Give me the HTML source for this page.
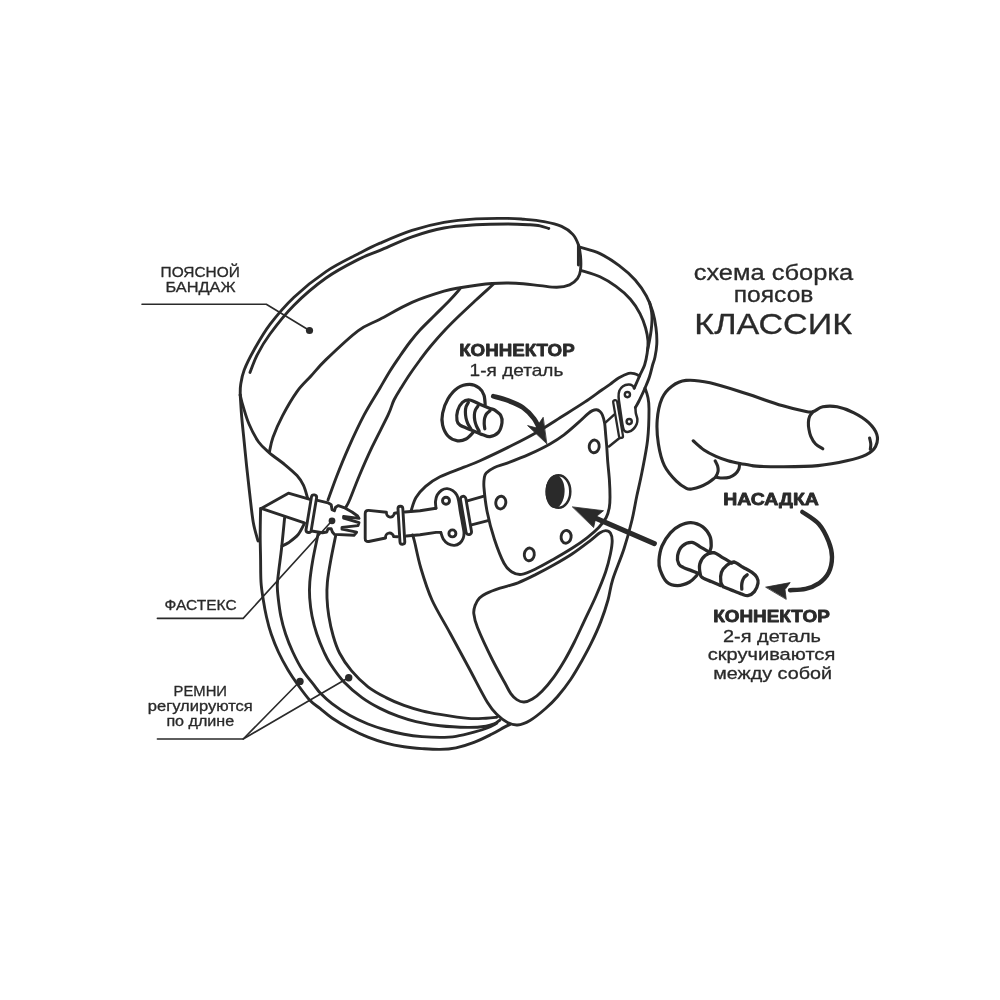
<!DOCTYPE html>
<html lang="ru">
<head>
<meta charset="utf-8">
<title>Схема сборки поясов КЛАССИК</title>
<style>
html,body{margin:0;padding:0;background:#fff;}
body{width:1000px;height:1000px;overflow:hidden;}
svg{display:block;}
svg{will-change:transform;}
svg text{font-family:"Liberation Sans",sans-serif;fill:#2a2a2a;}
</style>
</head>
<body>
<svg width="1000" height="1000" viewBox="0 0 1000 1000">
<rect width="1000" height="1000" fill="#fff"/>
<g fill="none" stroke="#2a2a2a" stroke-linecap="round" stroke-linejoin="round">
<path d="M240.2 395C240.3 393.2 240 388.6 240.7 384.4C241.4 380.2 242 375.7 244.2 370C246.4 364.3 249.7 357.6 254 350C258.3 342.4 263.3 333.2 270 324.4C276.7 315.6 284.7 306 294 297.2C303.3 288.4 315.3 278.8 326 271.6C336.7 264.4 349 258.7 358 254C367 249.3 371 247.1 380 243.2C389 239.3 401.3 233.9 412 230.4C422.7 226.9 433.3 224.3 444 222.4C454.7 220.5 465.3 219.6 476 218.9C486.7 218.2 500 218.3 508 218.4C516 218.5 518 218.8 524 219.3C530 219.8 537.7 220.4 544 221.6C550.3 222.8 556.8 224.3 561.6 226.4C566.4 228.5 570 231.3 572.8 234.4C575.6 237.5 577.1 241.2 578.4 244.8C579.7 248.4 580.1 251.7 580.5 256C580.9 260.3 581 266.7 580.5 270.4C580 274.1 579.4 276 577.6 278.4C575.8 280.8 573.1 283.3 569.6 284.8C566.1 286.3 561.7 287.1 556.8 287.2C551.9 287.3 546.8 286.3 540 285.6C533.2 284.9 524 283.6 516 283.2C508 282.8 501.3 282.8 492 283.5C482.7 284.2 468 286.4 460 287.7C452 289 452 288.8 444 291.2C436 293.6 422.7 297.7 412 302.4C401.3 307.1 389 314.5 380 319.2C371 323.9 367 324.1 358 330.8C349 337.5 333.8 352.1 326 359.6C318.2 367.1 315.8 370.7 311 376C306.2 381.3 301.7 385 297 391.6C292.3 398.2 286.6 408 282.6 415.6C278.6 423.2 275.2 431.1 273 437.2C270.8 443.3 270 449.5 269.4 452" fill="none" stroke-width="2.9"/>
<path d="M250 372.4C251.2 369.5 253.9 361.2 257.2 354.8C260.5 348.4 263.9 342.3 270 334C276.1 325.7 284.7 314.5 294 305.2C303.3 295.9 315.3 285.6 326 278C336.7 270.4 349 264.2 358 259.6C367 255 371 254.2 380 250.4C389 246.6 401.3 240.5 412 236.8C422.7 233.1 433.3 230 444 228C454.7 226 465.3 225.5 476 224.8C486.7 224.1 499 224 508 224C517 224 524.7 224.5 530 224.8C535.3 225.1 536.9 225.2 540 225.8C543.1 226.4 547.3 228.1 548.8 228.5" fill="none" stroke-width="2.9"/>
<path d="M578.4 245.5L578.4 265" fill="none" stroke-width="2.9"/>
<path d="M240.2 395C240.5 398.8 241.1 410.2 241.8 418C242.5 425.8 243.4 434 244.2 442C245 450 245.7 457.7 246.6 466C247.5 474.3 248.4 482.7 249.5 492C250.6 501.3 251.8 513.8 253.2 522C254.6 530.2 257.2 537.8 258 541" fill="none" stroke-width="2.9"/>
<path d="M240.2 395C240.7 396.8 241.5 401.2 243 406C244.5 410.8 246.4 418 249 424C251.6 430 255.2 437.2 258.6 442C262 446.8 265 449 269.4 452.8C273.8 456.6 280.4 461 285 464.8C289.6 468.6 293.9 472.2 297 475.6C300.1 479 301.6 481.5 303.4 485.2C305.2 488.9 306.9 495.9 307.6 498" fill="none" stroke-width="2.9"/>
<path d="M580 247.2C583.3 248.3 593.5 250.5 600 253.6C606.5 256.7 613.3 261.2 619.2 265.6C625.1 270 630.7 274.9 635.2 280C639.7 285.1 643.5 290.7 646.4 296C649.3 301.3 651.2 306.7 652.8 312C654.4 317.3 655.3 322.7 656 328C656.7 333.3 657 339.2 656.8 344C656.6 348.8 655.7 353.5 655 357C654.3 360.5 653.5 361.7 652.6 365C651.7 368.3 650.7 373 649.4 377C648.1 381 646.3 385 644.6 389C642.9 393 640.5 397.9 639 401C637.5 404.1 636 406.3 635.4 407.4" fill="none" stroke-width="2.9"/>
<path d="M580.8 270.4C584 271.5 594.1 274.1 600 276.8C605.9 279.5 610.9 282.7 616 286.4C621.1 290.1 626.4 294.7 630.4 299.2C634.4 303.7 637.5 308.8 640 313.6C642.5 318.4 644.3 323.4 645.6 328C646.9 332.6 647.7 336.8 648 341C648.3 345.2 647.8 349 647.2 353C646.6 357 645.8 361.3 644.6 365C643.4 368.7 641.5 371.5 639.8 375.4C638.1 379.3 635.1 386.1 634.2 388.2" fill="none" stroke-width="2.9"/>
<path d="M649.6 302.4C649.9 304 651.2 309.1 651.6 312C652 314.9 652.1 317 652 320C651.9 323 651.6 326.7 651.2 330C650.8 333.3 650.2 336.7 649.6 340C649 343.3 647.9 348.3 647.6 350" fill="none" stroke-width="2.9"/>
<path d="M260.6 508.4C260.5 513 260.2 527.4 260.2 536C260.2 544.6 260.5 552.3 260.6 560C260.7 567.7 260.6 575.3 261 582C261.4 588.7 262.4 594.2 263.3 600C264.2 605.8 265.2 611.3 266.5 617C267.8 622.7 269.2 628.2 271.2 634C273.2 639.8 275.6 646 278.4 652C281.2 658 284.8 664.6 288 670C291.2 675.4 294 679.4 297.6 684.4C301.2 689.4 305.9 696 309.6 700C313.3 704 316.3 705.4 320 708.4C323.7 711.4 327 714.6 332 718C337 721.4 344 725.6 350 728.8C356 732 362 734.8 368 737.2C374 739.6 380 741.6 386 743.2C392 744.8 398 745.9 404 746.8C410 747.7 416 748.2 422 748.6C428 749 434.3 749.5 440 749.4C445.7 749.3 450.3 749 456 747.8C461.7 746.6 468 744.7 474 742.4C480 740.1 487 736.5 492 734C497 731.5 501 729 504 727.4C507 725.8 509 724.9 510 724.4" fill="none" stroke-width="2.9"/>
<path d="M284.6 518C284.1 523 282.6 539 281.6 548C280.6 557 279.3 565.8 278.6 572C277.9 578.2 277.4 580.7 277.3 585C277.2 589.3 277.6 592.8 278.2 598C278.8 603.2 279.6 610 280.8 616C282 622 283.6 628 285.6 634C287.6 640 290 646 292.8 652C295.6 658 298.8 664.4 302.4 670C306 675.6 311.5 681.8 314.4 685.6C317.3 689.4 317.1 689.8 320 692.8C322.9 695.8 327 699.8 332 703.6C337 707.4 344 712.2 350 715.6C356 719 362 721.6 368 724C374 726.4 380 728.3 386 730C392 731.7 398 733.1 404 734.2C410 735.3 416 736.1 422 736.6C428 737.1 434.3 737.4 440 737.4C445.7 737.4 450.3 737.3 456 736.4C461.7 735.5 468.8 733.6 474 732.2C479.2 730.8 483.4 729.5 487.2 728C491 726.5 495.2 724 496.8 723.2" fill="none" stroke-width="2.9"/>
<path d="M460 288.8C458.3 290.7 454.2 295.6 450 300C445.8 304.4 440 310 435 315C430 320 424.2 325.5 420 330C415.8 334.5 413.3 337.7 410 342C406.7 346.3 403.3 351.2 400 356C396.7 360.8 393.3 365.7 390 371C386.7 376.3 384.3 380.6 380 388C375.7 395.4 369.3 405.1 364 415.2C358.7 425.3 352.5 438.7 348 448.8C343.5 458.9 340.1 467.5 336.8 476C333.5 484.5 329.5 496 328 500" fill="none" stroke-width="2.9"/>
<path d="M318.2 533.6C317.3 538 314.2 551.9 312.8 560C311.4 568.1 310.3 575.7 309.8 582C309.3 588.3 309.3 592.3 309.7 598C310.1 603.7 310.8 610 312 616C313.2 622 314.8 628 316.8 634C318.8 640 321.7 647 324 652C326.3 657 327.1 659 330.4 664C333.7 669 338.7 676.4 344 682C349.3 687.6 356 693.2 362 697.6C368 702 374 705.3 380 708.4C386 711.5 392 714 398 716.2C404 718.4 409 720 416 721.6C423 723.2 431.3 724.8 440 725.8C448.7 726.8 460.3 727.3 468 727.4C475.7 727.5 481.6 726.8 486 726.2C490.4 725.6 492.1 724.8 494.4 723.8C496.7 722.8 498.9 720.8 499.8 720.2" fill="none" stroke-width="2.9"/>
<path d="M493.6 284C490.7 286.7 481.6 294.8 476 300C470.4 305.2 465.2 310 460 315C454.8 320 450 324.7 445 330C440 335.3 434.2 342 430 347C425.8 352 423.3 355.5 420 360C416.7 364.5 413.2 369.3 410 374C406.8 378.7 403.7 383.7 401 388C398.3 392.3 396.2 395.5 394 400C391.8 404.5 391.7 407.3 388 415.2C384.3 423.1 376.8 437.1 372 447.2C367.2 457.3 362.9 467.2 359.2 476C355.5 484.8 351.8 494.8 349.6 500C347.4 505.2 346.6 505.8 346 507" fill="none" stroke-width="2.9"/>
<path d="M335.6 536C334.8 540 332.2 552.3 330.8 560C329.4 567.7 328 575.7 327.4 582C326.8 588.3 326.8 592.3 327 598C327.2 603.7 327.8 609.7 328.8 616C329.8 622.3 331.4 629.8 333.2 636C335 642.2 336.5 647.2 339.5 653C342.5 658.8 346.6 665 351.4 670.6C356.1 676.2 362.2 682.3 368 686.8C373.8 691.3 380 694.5 386 697.6C392 700.7 398 703.2 404 705.4C410 707.6 416 709.3 422 710.8C428 712.3 432.3 713.1 440 714.4C447.7 715.7 460.3 717.8 468 718.4C475.7 719 481.2 718.4 486 718.2C490.8 718 495 717.4 496.8 717.2" fill="none" stroke-width="2.9"/>
<path d="M310.8 499.6L288.4 493.2L261.2 508.4L304.4 522.8" fill="none" stroke-width="2.9" stroke-linejoin="round"/>
<path d="M304.4 523.6C303.3 525.5 300.7 531.6 298 534.8C295.3 538 291.1 540.9 288.4 542.8C285.7 544.7 283.1 545.5 282 546" fill="none" stroke-width="2.9"/>
<path d="M317.6 500.4L328 502.8L331.2 504.8L332 509.6L334.4 510.8L335.6 507.2L338.4 505.6L344 507.6L352 512L357.6 516L359 518.4L343.6 516.4L343.6 518L359 522.6L358 525.6L342 527.4L342 529.2L356.6 532.2L354 535.2L334.4 534.4L332.4 532L331.2 528.8L328 528.8L326.8 532L322.4 532.8L311.6 531" fill="#fff" stroke-width="2.9" stroke-linejoin="round"/>
<rect x="311.4" y="494.9" width="38.1" height="5.2" rx="2.6" ry="2.6" fill="#fff" stroke-width="2.9" transform="rotate(99.4 314 497.5)"/>
<path d="M397.6 512.8L394.4 513.2A4 4.4 0 0 1 386.4 512.2L368.6 510.4Q365.2 510.2 365.2 513.8L365.2 538.4Q365.2 542 368.8 541.5L385.6 538A4 4.2 0 0 1 393.6 536.6L397.6 536.8" fill="#fff" stroke-width="2.9"/>
<path d="M404.8 512L420 510.8L436 508.2" fill="none" stroke-width="2.9"/>
<path d="M406.4 536L420 534.8L436 532.4L440.8 532.4" fill="none" stroke-width="2.9"/>
<rect x="398" y="506.2" width="38.1" height="4.8" rx="2.4" ry="2.4" fill="#fff" stroke-width="2.9" transform="rotate(86.6 400.4 508.6)"/>
<path d="M411.2 510.4C412 508.3 413.6 501.6 416 497.6C418.4 493.6 421.6 489.9 425.6 486.4C429.6 482.9 433.6 480 440 476.8C446.4 473.6 457.3 469.9 464 467.2C470.7 464.5 472.7 464 480 460.7C487.3 457.4 498.7 452.1 508 447.4C517.3 442.7 526.7 438.1 536 432.7C545.3 427.3 555.8 420.3 564 415.2C572.2 410.1 578.7 406.1 585 401.9C591.3 397.7 597.6 392.9 601.8 390C606 387.1 607.1 386.4 610 384.4C612.9 382.4 615.9 379.6 619 377.8C622.1 376 625.9 374.1 628.6 373.4C631.3 372.7 633.2 373.4 635 373.8C636.8 374.2 638.8 375.6 639.5 376" fill="none" stroke-width="2.9"/>
<path d="M412.5 535C412.8 536 413 535.5 414.4 541C415.8 546.5 417.9 558.2 420.8 568C423.7 577.8 427.1 589.2 432 600C436.9 610.8 443.7 621.3 450 633C456.3 644.7 463.8 658.4 470 670C476.2 681.6 482.9 695 487.5 702.5C492.1 710 494.2 711.7 497.5 715C500.8 718.3 504.2 720.8 507.5 722.5C510.8 724.2 513.8 725.3 517.5 725C521.2 724.7 525.3 723.2 530 720.5C534.7 717.8 541 712.5 545.6 708.5C550.2 704.5 553.4 701.4 557.6 696.5C561.8 691.6 566.8 685.1 570.8 679.2C574.8 673.3 578.2 667.2 581.6 661.2C585 655.2 588 649.8 591.2 643.2C594.4 636.6 598 628.8 600.8 621.6C603.6 614.4 606 607.1 608 600C610 592.9 610.1 587.7 612.8 579.2C615.5 570.7 620.8 558.7 624 548.8C627.2 538.9 629.9 528.8 632 520C634.1 511.2 635.1 504 636.8 496C638.5 488 640.2 481.3 642 472C643.8 462.7 646.4 450.5 647.6 440C648.8 429.5 649 416.2 649 409C649 401.8 648.5 400.5 647.8 397C647.1 393.5 645.5 389.7 645 388.2" fill="none" stroke-width="2.9"/>
<path d="M479.5 598C481.3 596.1 482.6 595.2 486 593.6C489.4 592 494.7 590 500 588.2C505.3 586.4 512 585.1 518 582.8C524 580.5 530 577.4 536 574.4C542 571.4 548 568.2 554 564.8C560 561.4 566 558 572 554C578 550 585.4 544.3 590 540.8C594.6 537.3 597 534.7 599.6 533C602.2 531.3 603.8 530.6 605.6 530.6C607.4 530.6 609.3 531.3 610.4 533C611.5 534.7 612.2 537.3 612.2 540.8C612.2 544.3 611.5 548.8 610.4 554C609.3 559.2 608 565 605.6 572C603.2 579 599.6 587.7 596 596C592.4 604.3 587.6 613.9 584 621.6C580.4 629.3 577.6 635.6 574.4 642C571.2 648.4 568.2 654.2 564.8 660C561.4 665.8 557.8 671.6 554 676.8C550.2 682 545.6 687.5 542 691.2C538.4 694.9 535.4 697.2 532.4 699C529.4 700.8 526.6 701.9 524 702C521.4 702.1 519 701 516.8 699.6C514.6 698.2 512.8 696.4 510.8 693.6C508.8 690.8 507.9 688.4 504.8 682.8C501.8 677.2 497.1 669.2 492.5 660C487.9 650.8 480.6 635.2 477.5 627.5C474.4 619.8 474.2 617.2 473.8 613.5C473.4 609.8 474.4 607.6 475.3 605C476.2 602.4 477.7 599.9 479.5 598Z" fill="none" stroke-width="2.9"/>
<path d="M436 508.2C435.9 507.1 435.3 503.6 435.5 501.4C435.7 499.2 436.2 496.9 437.2 495C438.2 493.1 439.9 491.3 441.6 490.2C443.3 489.1 445.3 488.5 447.2 488.6C449.1 488.7 451.2 489.5 452.8 490.6C454.4 491.7 455.8 493.3 456.8 495C457.8 496.7 458 497.9 458.6 500.6C459.2 503.3 459.6 507.3 460.2 511C460.8 514.7 461.8 519.4 462.4 523C463 526.6 463.9 530.1 464 532.6C464.1 535.1 463.9 536.5 463.2 538.2C462.5 539.9 461.5 541.8 460 543C458.5 544.2 456.4 545.3 454.4 545.4C452.4 545.5 449.9 544.9 448 543.8C446.1 542.7 444.4 540.9 443.2 539C442 537.1 441.2 533.5 440.8 532.4" fill="none" stroke-width="2.9"/>
<ellipse cx="446" cy="500.8" rx="3.5" ry="3.5" fill="none" stroke-width="2.9"/>
<ellipse cx="452.4" cy="533.4" rx="3.5" ry="3.5" fill="none" stroke-width="2.9"/>
<path d="M465.6 501.4L484 496.2" fill="none" stroke-width="2.9"/>
<path d="M469.6 525.4L488 520.6" fill="none" stroke-width="2.9"/>
<rect x="460.4" y="496.2" width="38.8" height="5.5" rx="2.8" ry="2.8" fill="#fff" stroke-width="2.9" transform="rotate(80.3 463.1 499)"/>
<path d="M486.2 473C487.8 471.3 490.4 469.4 494 467.7C497.6 466 502.2 465 508 462.8C513.8 460.6 522 457.5 529 454.4C536 451.2 544.2 447.2 550 443.9C555.8 440.6 559.3 438.3 564 434.8C568.7 431.3 574 426.4 578 422.9C582 419.4 585.4 415.9 587.8 413.8C590.2 411.8 591 411.3 592.5 410.6C594 409.9 595.4 409.7 596.6 409.8C597.9 409.9 599 410.6 600 411.5C601 412.4 601.6 413.1 602.4 415C603.2 416.9 604 419.5 604.6 423C605.2 426.5 605.4 432.2 605.8 436C606.1 439.8 606.4 442 606.7 446C607 450 607.2 454.3 607.6 460C608 465.7 609 473.8 609.4 480C609.8 486.2 610 492.4 610 497C610 501.6 609.9 504.1 609.3 507.5C608.7 510.9 607.9 514.2 606.2 517.5C604.5 520.8 602.2 523.8 599 527.2C595.8 530.6 591.5 534.3 587 537.8C582.5 541.3 577.5 544.8 572 548.3C566.5 551.8 560 555.6 554 559C548 562.4 541.4 566.2 536 568.8C530.6 571.4 525.6 573.9 521.6 574.4C517.6 574.9 514.9 573.9 512 572C509.1 570.1 506.9 568.7 504 563.2C501.1 557.7 497.2 547.7 494.4 539.2C491.6 530.7 488.9 520.5 487.2 512C485.5 503.5 484.5 493.7 484 488C483.5 482.3 483.9 480.5 484.3 478C484.7 475.5 484.6 474.7 486.2 473Z" fill="none" stroke-width="2.9"/>
<ellipse cx="500.8" cy="502.6" rx="5" ry="6.4" fill="none" stroke-width="2.9" transform="rotate(8 500.8 502.6)"/>
<ellipse cx="529.3" cy="554.4" rx="5" ry="6.4" fill="none" stroke-width="2.9" transform="rotate(8 529.3 554.4)"/>
<ellipse cx="566.1" cy="536.8" rx="5" ry="6.4" fill="none" stroke-width="2.9" transform="rotate(8 566.1 536.8)"/>
<ellipse cx="594.2" cy="446.4" rx="5" ry="6.4" fill="none" stroke-width="2.9" transform="rotate(8 594.2 446.4)"/>
<ellipse cx="558.5" cy="491.5" rx="11.8" ry="16.3" fill="#fff" stroke-width="2.5"/>
<ellipse cx="555.1" cy="491.5" rx="9.5" ry="16.6" fill="#2a2a2a" stroke="none" transform="rotate(2 555.1 491.5)"/>
<path d="M634.2 388.2C633.9 387.8 633.5 386.4 632.6 385.8C631.7 385.2 630.2 384.5 628.6 384.6C627 384.7 624.5 385.2 623 386.2C621.5 387.2 620.1 388.8 619.4 390.6C618.7 392.4 618.5 394.3 618.6 397C618.7 399.7 619.3 403.1 619.8 406.6C620.3 410.1 620.9 414.3 621.4 417.8C621.9 421.3 622.5 425.2 623 427.4C623.5 429.6 623.7 430.3 624.6 431C625.5 431.7 627.1 432.1 628.6 431.8C630.1 431.5 632.1 430.3 633.4 429C634.7 427.7 635.9 425.8 636.6 424.2C637.3 422.6 637.5 421.3 637.4 419.4C637.3 417.5 636.1 415 635.8 413C635.5 411 635.5 408.3 635.4 407.4" fill="none" stroke-width="2.5"/>
<ellipse cx="627.4" cy="394.6" rx="2.6" ry="2.6" fill="none" stroke-width="2.4"/>
<ellipse cx="629.2" cy="421.6" rx="2.6" ry="2.6" fill="none" stroke-width="2.4"/>
<path d="M614.2 414.6L605.4 422.6" fill="none" stroke-width="2.5"/>
<path d="M621.4 436.5L609 446.5" fill="none" stroke-width="2.5"/>
<rect x="613.2" y="400.2" width="38.3" height="4" rx="2" ry="2" fill="#fff" stroke-width="2.3" transform="rotate(80.3 615.2 402.2)"/>
<path d="M485.2 404.8C485 403.2 485 398 484 395.2C483 392.4 481.6 389.8 479.2 388C476.8 386.2 473.2 384.4 469.6 384.4C466 384.4 461.2 385.6 457.6 388C454 390.4 450.5 394.6 448 398.8C445.5 403 443.5 408.8 442.6 413.2C441.7 417.6 441.7 421.4 442.6 425.2C443.5 429 445.5 433.4 448 436C450.5 438.6 454.6 440.3 457.6 440.8C460.6 441.3 463.4 440.4 466 439C468.6 437.6 472 433.5 473.2 432.4" fill="none" stroke-width="3.2"/>
<path d="M494.8 410.2C493 409 492.5 409.4 490 408.4C487.5 407.4 483.2 405.6 479.8 404.2C476.4 402.8 472.5 400.3 469.6 400C466.7 399.7 464.4 400.6 462.4 402.4C460.4 404.2 458.5 407.8 457.6 410.8C456.7 413.8 456.6 418 457 420.4C457.4 422.8 457.6 423.6 460 425.2C462.4 426.8 467.6 428.4 471.4 430C475.2 431.6 479.7 433.7 482.8 434.8C485.9 435.9 487.4 437 490 436.6C492.6 436.2 496.4 434.7 498.4 432.4C500.4 430.1 501.6 425.6 502 422.8C502.4 420 502 417.7 500.8 415.6C499.6 413.5 496.6 411.4 494.8 410.2Z" fill="none" stroke-width="3.2"/>
<path d="M468.4 402.4C468 403.2 466.5 405.4 466 407C465.5 408.6 465.4 410.2 465.4 412C465.4 413.8 465.6 416.1 466 418C466.4 419.9 467 421.8 467.8 423.6C468.6 425.4 470.3 427.9 470.8 428.8" fill="none" stroke-width="3.2"/>
<path d="M478 406C477.6 406.7 476 408.5 475.4 410C474.8 411.5 474.5 413.1 474.4 414.8C474.3 416.5 474.5 418.6 474.8 420.4C475.1 422.2 475.7 424 476.4 425.8C477.1 427.6 478.7 430.3 479.2 431.2" fill="none" stroke-width="3.2"/>
<path d="M490 410.8C489.4 411.3 487.3 412.7 486.4 414C485.5 415.3 485 416.8 484.6 418.4C484.2 420 484.2 421.9 484.2 423.6C484.2 425.3 484.7 427.9 484.8 428.8" fill="none" stroke-width="3.2"/>
<path d="M493.3 396.3C495.8 397 503.1 398.7 508 400.6C513 402.5 518.7 404.6 523 407.6C527.3 410.6 531.2 414.9 534 418.6C536.8 422.3 539 428.1 540 430" fill="none" stroke-width="4.8" stroke-linecap="round"/>
<path d="M546.6 443.6L527.6 425.6L536 427.8L543 417.6Z" fill="#2a2a2a" stroke-width="0.8"/>
<path d="M696.8 575.4C695.6 576.5 692.8 580.3 689.6 582C686.4 583.7 681.4 585.6 677.6 585.6C673.8 585.6 669.7 584.6 666.8 582C663.9 579.4 661.5 573.6 660.2 570C658.9 566.4 658.7 564.4 659 560.4C659.3 556.4 660.1 550.6 662 546C663.9 541.4 667.4 536.2 670.4 532.8C673.4 529.4 676.6 527.3 680 525.6C683.4 523.9 687 522.4 690.8 522.6C694.6 522.8 699.6 524.5 702.8 526.8C706 529.1 708.6 533.2 710 536.4C711.4 539.6 711.2 543.6 711.2 546C711.2 548.4 710.2 550 710 550.8" fill="none" stroke-width="3.3"/>
<path d="M710 552.6C708.5 551.7 704 549.1 701 547.4C698 545.7 695.1 542.6 692 542.4C688.9 542.2 684.8 543.8 682.4 546C680 548.2 678.2 552.6 677.6 555.6C677 558.6 677.8 562 678.8 564C679.8 566 681.5 566.5 683.6 567.6C685.7 568.7 688.8 569.6 691.4 570.6C694 571.6 697.9 573.1 699.2 573.6" fill="none" stroke-width="3.3"/>
<path d="M731.6 562.8C730.1 561.9 725.6 559.3 722.6 557.6C719.6 555.9 716.5 552.9 713.6 552.6C710.7 552.3 707.5 553.7 705.2 555.6C702.9 557.5 700.6 560.8 699.8 564C699 567.2 699.9 572.5 700.4 574.8C700.9 577.1 700.9 576.6 702.8 577.8C704.7 579 708.8 580.5 711.8 581.8C714.8 583.1 719.3 585 720.8 585.6" fill="none" stroke-width="3.3"/>
<path d="M710 552.6L713.6 552.6" fill="none" stroke-width="3.3"/>
<path d="M723.2 586.8C722.8 586 721.1 584.4 720.8 582C720.5 579.6 720.4 575.2 721.4 572.4C722.4 569.6 724.7 566.9 726.8 565.2C728.9 563.5 731.3 561.9 734 562.2C736.7 562.5 740 565.5 743 567.2C746 568.9 749.7 570.7 752 572.4C754.3 574.1 755.8 575.4 756.8 577.2C757.8 579 758.4 580.8 758 583.2C757.6 585.6 756.1 589.5 754.4 591.6C752.7 593.7 750 595.2 747.8 595.6C745.6 595.9 743.8 594.7 741.2 593.9C738.6 593 735.2 591.6 732.2 590.4C729.2 589.2 724.7 587.4 723.2 586.8" fill="none" stroke-width="3.3"/>
<path d="M731.6 562.8L734 562.2" fill="none" stroke-width="3.3"/>
<path d="M747.2 574.8C746.7 575.2 745 576.4 744.2 577.4C743.4 578.5 742.8 579.8 742.4 581C742 582.3 741.8 583.8 741.7 585.1C741.6 586.5 741.8 588.5 741.8 589.2" fill="none" stroke-width="3.3"/>
<path d="M594.4 517.6L654.4 543.6" fill="none" stroke-width="5" stroke-linecap="round"/>
<path d="M572.7 506.9L603.5 510.7L596 516.8L593.7 527.2Z" fill="#2a2a2a" stroke-width="0.8"/>
<path d="M693.2 440.8C695 442.3 700.2 447.4 704 450C707.8 452.6 712 454.6 716 456.4C720 458.2 724 459.6 728 460.8C732 462 736 462.8 740 463.6C744 464.4 748.7 465.1 752 465.6C755.3 466.1 755 466.2 760 466.4C765 466.6 772.3 466.9 782 466.8C791.7 466.7 807.2 466.6 818 465.6C828.8 464.6 838.8 462.6 846.8 460.8C854.8 459 861.2 457.2 866 454.8C870.8 452.4 873.8 449.8 875.6 446.4C877.4 443 878 438.4 876.8 434.4C875.6 430.4 872.2 426 868.4 422.4C864.6 418.8 859.2 415.4 854 412.8C848.8 410.2 842.4 407.8 837.2 406.8C832 405.8 826.8 406 822.8 406.8C818.8 407.6 816 410.8 813.2 411.6C810.4 412.4 811.2 412.6 806 411.6C800.8 410.6 792 408.6 782 405.6C772 402.6 758 397.4 746 393.6C734 389.8 720 385 710 382.8C700 380.6 692.4 379.8 686 380.4C679.6 381 675.6 383.4 671.6 386.4C667.6 389.4 664.4 392.8 662 398.4C659.6 404 657.8 412.4 657.2 420C656.6 427.6 657.2 436.4 658.4 444C659.6 451.6 661.4 459.4 664.4 465.6C667.4 471.8 672.7 477.4 676.4 481.2C680.1 485 683.7 487.1 686.4 488.4C689.1 489.7 690.5 489.1 692.8 488.8C695.1 488.5 697.5 487.8 700 486.8C702.5 485.8 705.7 484.1 708 482.8C710.3 481.5 712.3 479.9 713.6 478.8C714.9 477.7 715.3 477.6 716 476.4C716.7 475.2 717.7 473.3 718 471.6C718.3 469.9 718.1 467.8 717.6 466C717.1 464.2 715.6 461.7 715.2 460.8" fill="none" stroke-width="3.1"/>
<path d="M813.2 411.6C812.6 412.4 810.4 414.6 809.6 416.4C808.8 418.2 808.5 420.3 808.4 422.4C808.3 424.5 808.5 426.8 808.9 429.1C809.3 431.4 809.7 433.8 810.8 436.3C811.9 438.8 813.6 441.9 815.6 444C817.6 446.1 821.6 448 822.8 448.8" fill="none" stroke-width="3.1"/>
<path d="M869.6 438C869.8 439 870.7 442.1 870.8 444C870.9 445.9 870.4 448.4 870.3 449.3" fill="none" stroke-width="3.1"/>
<path d="M716 477.2C717.1 477.3 720.1 478 722.4 478C724.7 478 727.5 477.9 729.6 477.2C731.7 476.5 733.7 475.3 735.2 474C736.7 472.7 738.1 470.9 738.8 469.2C739.5 467.5 739.5 464.5 739.6 463.6" fill="none" stroke-width="3.1"/>
<path d="M802.3 511.9C805 513.9 814.4 519 818.8 524C823.2 529 826.5 536.1 828.7 541.6C830.9 547.1 832 551.9 832 557C832 562.1 830.9 568 828.7 572.4C826.5 576.8 822.6 580.6 818.8 583.4C814.9 586.1 810.4 587.8 805.6 588.9C800.8 590 792.6 590 790 590.2" fill="none" stroke-width="4.4" stroke-linecap="round"/>
<path d="M766 587.1L790.2 582.6L785 589.6L786.2 599Z" fill="#2a2a2a" stroke-width="0.8"/>
<path d="M142 304.2L266.3 304.2L309.5 330.5" fill="none" stroke-width="1.6"/>
<circle cx="309.5" cy="330.5" r="3.6" fill="#2a2a2a" stroke="none"/>
<path d="M157.4 618.4L243.2 618.4L332 520.8" fill="none" stroke-width="1.6"/>
<circle cx="332" cy="520.8" r="3.4" fill="#2a2a2a" stroke="none"/>
<path d="M157.4 739L243.2 739L300 681.3" fill="none" stroke-width="1.6"/>
<path d="M243.2 739L348.8 677.5" fill="none" stroke-width="1.6"/>
<circle cx="300" cy="681.4" r="3.7" fill="#2a2a2a" stroke="none"/>
<circle cx="348.7" cy="677.7" r="3.7" fill="#2a2a2a" stroke="none"/>
</g>
<g>
<text x="200.2" y="277.2" font-size="14.8" font-weight="400" text-anchor="middle" textLength="79.2" lengthAdjust="spacingAndGlyphs" stroke="#2a2a2a" stroke-width="0.3" stroke-linejoin="round">ПОЯСНОЙ</text>
<text x="200.5" y="292.2" font-size="14.8" font-weight="400" text-anchor="middle" textLength="70.2" lengthAdjust="spacingAndGlyphs" stroke="#2a2a2a" stroke-width="0.3" stroke-linejoin="round">БАНДАЖ</text>
<text x="200.6" y="610" font-size="14.8" font-weight="400" text-anchor="middle" textLength="72" lengthAdjust="spacingAndGlyphs" stroke="#2a2a2a" stroke-width="0.3" stroke-linejoin="round">ФАСТЕКС</text>
<text x="200.3" y="695.8" font-size="14.8" font-weight="400" text-anchor="middle" textLength="53.4" lengthAdjust="spacingAndGlyphs" stroke="#2a2a2a" stroke-width="0.3" stroke-linejoin="round">РЕМНИ</text>
<text x="200.3" y="711.4" font-size="13.8" font-weight="400" text-anchor="middle" textLength="105" lengthAdjust="spacingAndGlyphs" stroke="#2a2a2a" stroke-width="0.3" stroke-linejoin="round">регулируются</text>
<text x="200.3" y="726.4" font-size="13.8" font-weight="400" text-anchor="middle" textLength="67.8" lengthAdjust="spacingAndGlyphs" stroke="#2a2a2a" stroke-width="0.3" stroke-linejoin="round">по длине</text>
<text x="516.9" y="355.9" font-size="17.3" font-weight="700" text-anchor="middle" textLength="115.5" lengthAdjust="spacingAndGlyphs" stroke="#2a2a2a" stroke-width="0.8" stroke-linejoin="round">КОННЕКТОР</text>
<text x="516.5" y="375.5" font-size="17" font-weight="400" text-anchor="middle" textLength="93.8" lengthAdjust="spacingAndGlyphs" stroke="#2a2a2a" stroke-width="0.3" stroke-linejoin="round">1-я деталь</text>
<text x="773.5" y="280.4" font-size="21.8" font-weight="400" text-anchor="middle" textLength="159.6" lengthAdjust="spacingAndGlyphs" stroke="#2a2a2a" stroke-width="0.3" stroke-linejoin="round">схема сборка</text>
<text x="773.6" y="302.3" font-size="21.8" font-weight="400" text-anchor="middle" textLength="79.6" lengthAdjust="spacingAndGlyphs" stroke="#2a2a2a" stroke-width="0.3" stroke-linejoin="round">поясов</text>
<text x="773.2" y="333.6" font-size="30.4" font-weight="400" text-anchor="middle" textLength="157.7" lengthAdjust="spacingAndGlyphs" stroke="#2a2a2a" stroke-width="0.3" stroke-linejoin="round">КЛАССИК</text>
<text x="771" y="505.3" font-size="17" font-weight="700" text-anchor="middle" textLength="95.7" lengthAdjust="spacingAndGlyphs" stroke="#2a2a2a" stroke-width="0.8" stroke-linejoin="round">НАСАДКА</text>
<text x="771.5" y="621.9" font-size="17.3" font-weight="700" text-anchor="middle" textLength="116.6" lengthAdjust="spacingAndGlyphs" stroke="#2a2a2a" stroke-width="0.8" stroke-linejoin="round">КОННЕКТОР</text>
<text x="772" y="641.7" font-size="17" font-weight="400" text-anchor="middle" textLength="97.9" lengthAdjust="spacingAndGlyphs" stroke="#2a2a2a" stroke-width="0.3" stroke-linejoin="round">2-я деталь</text>
<text x="771.5" y="660.4" font-size="17" font-weight="400" text-anchor="middle" textLength="127.6" lengthAdjust="spacingAndGlyphs" stroke="#2a2a2a" stroke-width="0.3" stroke-linejoin="round">скручиваются</text>
<text x="772.6" y="679.1" font-size="17" font-weight="400" text-anchor="middle" textLength="118.8" lengthAdjust="spacingAndGlyphs" stroke="#2a2a2a" stroke-width="0.3" stroke-linejoin="round">между собой</text>
</g>
</svg>
</body>
</html>
